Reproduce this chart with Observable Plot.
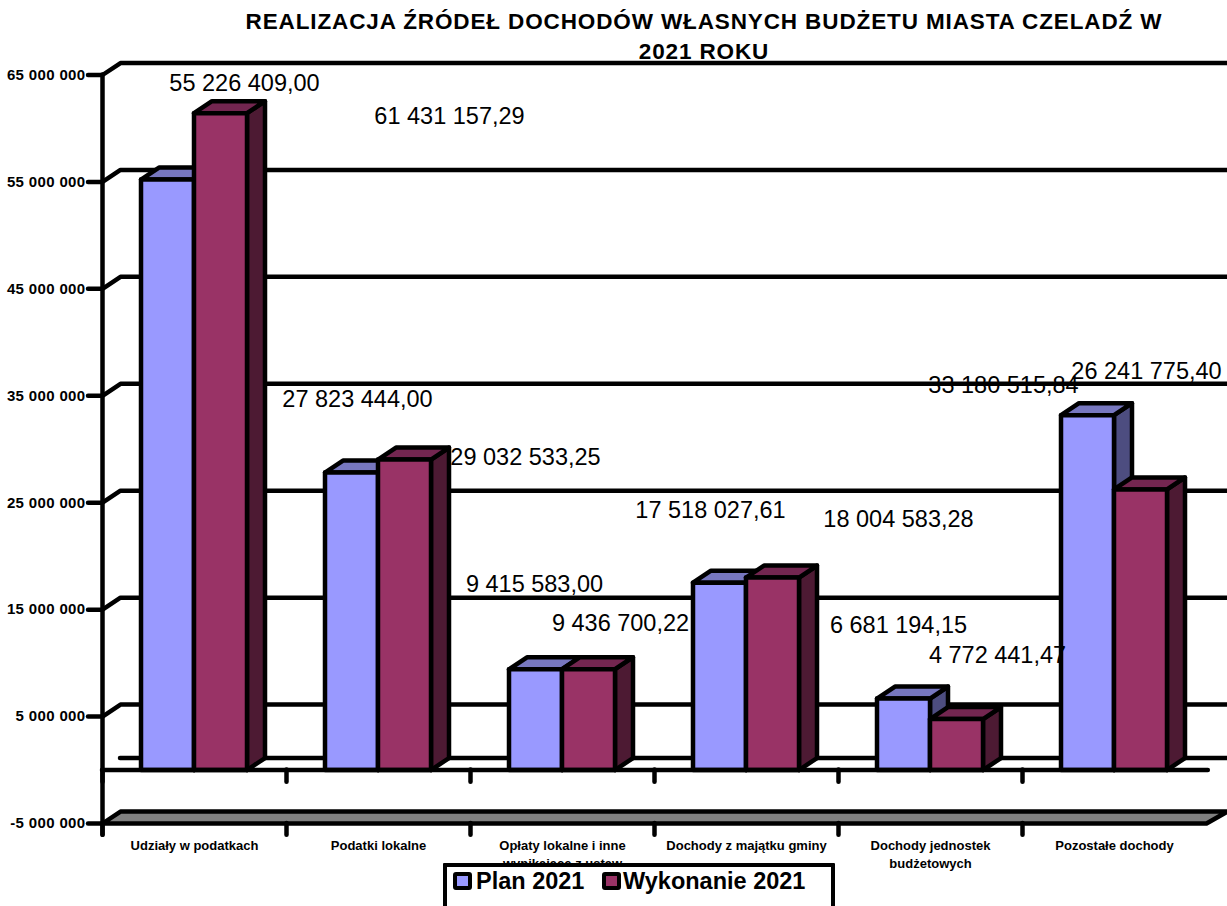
<!DOCTYPE html>
<html lang="pl">
<head>
<meta charset="utf-8">
<script src="https://cdn.jsdelivr.net/npm/d3@7"></script>
<script src="https://cdn.jsdelivr.net/npm/@observablehq/plot@0.6"></script>
<style>
  html, body { margin: 0; padding: 0; background: #fff; width: 1227px; height: 906px; overflow: hidden; }
  body { position: relative; font-family: "Liberation Sans", Arial, sans-serif; color: #000; }
  #title { position: absolute; left: 190px; top: 7px; width: 1028px; text-align: center; font-weight: bold; font-size: 22.5px; letter-spacing: 0.88px; line-height: 30px; z-index: 2; }
  #chart { position: absolute; left: 0; top: 0; }
  #legend { position: absolute; left: 443px; top: 863px; width: 384px; height: 60px; border: 4px solid #000; background: #fff; border-radius: 1px; z-index: 3; font-weight: bold; font-size: 23.5px; }
  #legend .sw { position: absolute; top: 5px; width: 11px; height: 10px; border: 4px solid #000; border-radius: 3px; }
  #legend .tx { position: absolute; top: 1px; line-height: 27px; white-space: nowrap; }
  g[aria-label="y-axis tick label"] text { letter-spacing: 0.35px; }
</style>
</head>
<body>
<div id="title">REALIZACJA ŹRÓDEŁ DOCHODÓW WŁASNYCH BUDŻETU MIASTA CZELADŹ W<br>2021 ROKU</div>
<div id="chart"></div>
<div id="legend">
  <span class="sw" style="left:6px;background:#9999FF"></span><span class="tx" style="left:29px">Plan 2021</span>
  <span class="sw" style="left:155px;background:#993366"></span><span class="tx" style="left:176px">Wykonanie 2021</span>
</div>
<script>
const categories = [
  "Udziały w podatkach",
  "Podatki lokalne",
  "Opłaty lokalne i inne\nwynikające z ustaw",
  "Dochody z majątku gminy",
  "Dochody jednostek\nbudżetowych",
  "Pozostałe dochody"
];
const plan2021 = [55226409.00, 27823444.00, 9415583.00, 17518027.61, 6681194.15, 33180515.84];
const wykonanie2021 = [61431157.29, 29032533.25, 9436700.22, 18004583.28, 4772441.47, 26241775.40];
const yTicks = [-5000000, 5000000, 15000000, 25000000, 35000000, 45000000, 55000000, 65000000];

// layout (style) constants
const depthX = 18 / 184;
const depthY = 1122000;
const barStart = 38.5 / 184;
const barWidth = 53 / 184;
const wallEnd = 6 + 21 / 184;
const planColors = {front: "#9999FF", top: "#7777BF", side: "#4D4D80"};
const wykColors = {front: "#993366", top: "#732650", side: "#4D1A33"};
const planShift = [[77, -96], [6, -73], [-1, -85], [-9, -72], [-5, -73], [-84, -30]];
const wykShift = [[229, 3.4], [121, -2], [32, -45.6], [126, -58], [41, -63.5], [6, -118]];

const pl = d3.formatLocale({decimal: ",", thousands: " ", grouping: [3], currency: ["", ""], minus: "-"});
const fmtTick = pl.format(",.0f");
const fmtValue = pl.format(",.2f");

// polygons for the pseudo-3D bars
const faces = [];
function addFace(id, fill, pts) {
  pts.concat([pts[0]]).forEach(([x, y]) => faces.push({id, fill, x, y}));
}
function addBar(key, x0, v, c) {
  const x1 = x0 + barWidth;
  addFace(key + "side", c.side, [[x1, 0], [x1 + depthX, depthY], [x1 + depthX, v + depthY], [x1, v]]);
  addFace(key + "top", c.top, [[x0, v], [x0 + depthX, v + depthY], [x1 + depthX, v + depthY], [x1, v]]);
  addFace(key + "front", c.front, [[x0, 0], [x0, v], [x1, v], [x1, 0]]);
}
categories.forEach((_, i) => {
  addBar("p" + i, i + barStart, plan2021[i], planColors);
  addBar("w" + i, i + barStart + barWidth, wykonanie2021[i], wykColors);
});

// back-wall grid lines
const gridPts = [];
yTicks.slice(1).forEach(v => {
  gridPts.push({v, x: 0, y: v}, {v, x: depthX, y: v + depthY}, {v, x: wallEnd, y: v + depthY});
});
const floor = [];
[[0, -5000000], [depthX, -5000000 + depthY], [wallEnd, -5000000 + depthY], [6, -5000000], [0, -5000000]]
  .forEach(([x, y]) => floor.push({x, y}));

const tickX = d3.range(0, 6);
const lw = 4.5;

const labelMarks = [];
[[plan2021, planShift, barStart + barWidth / 2], [wykonanie2021, wykShift, barStart + barWidth * 1.5]].forEach(([vals, shift, off]) => {
  vals.forEach((v, i) => {
    labelMarks.push(Plot.text([v], {
      x: () => i + off, y: d => d, text: d => fmtValue(d),
      dx: shift[i][0], dy: shift[i][1],
      fontSize: 23.5, fontWeight: "normal", fill: "#000", textAnchor: "middle", lineAnchor: "middle"
    }));
  });
});

const chart = Plot.plot({
  width: 1227,
  height: 906,
  marginLeft: 102,
  marginRight: 21,
  marginTop: 74.5,
  marginBottom: 83,
  style: {fontFamily: "'Liberation Sans', Arial, sans-serif", background: "transparent", overflow: "visible", color: "#000"},
  x: {type: "linear", domain: [0, 6]},
  y: {type: "linear", domain: [-5000000, 65000000]},
  color: {type: "identity"},
  marks: [
    Plot.line(gridPts, {x: "x", y: "y", z: "v", stroke: "#000", strokeWidth: lw}),
    Plot.ruleY([depthY], {x1: depthX, x2: wallEnd, stroke: "#000", strokeWidth: lw, strokeLinecap: "round"}),
    Plot.line(floor, {x: "x", y: "y", fill: "#808080", stroke: "#000", strokeWidth: lw}),
    Plot.line(faces, {x: "x", y: "y", z: "id", fill: "fill", stroke: "#000", strokeWidth: lw}),
    Plot.ruleY([0], {x1: 0, x2: 6.01, stroke: "#000", strokeWidth: lw, strokeLinecap: "round"}),
    Plot.ruleX([0], {y1: -6100000, y2: 65000000, stroke: "#000", strokeWidth: lw, strokeLinecap: "round"}),
    Plot.ruleX(tickX, {y1: 0, y2: -1150000, stroke: "#000", strokeWidth: lw, strokeLinecap: "round"}),
    Plot.ruleX(tickX, {y1: -5000000, y2: -6100000, stroke: "#000", strokeWidth: lw, strokeLinecap: "round"}),
    Plot.axisY({
      ticks: yTicks, tickFormat: fmtTick, tickSize: 14, tickPadding: 3,
      label: null, stroke: "#000", strokeWidth: lw, strokeLinecap: "round",
      fontSize: 15, fontWeight: "bold", fill: "#000"
    }),
    Plot.axisX({
      ticks: categories.map((_, i) => i + 0.5),
      tickFormat: d => categories[Math.floor(d)],
      tickSize: 0, tickPadding: 13.6, label: null, lineHeight: 1.4,
      fontSize: 13, fontWeight: "bold", fill: "#000", lineAnchor: "top"
    }),
    ...labelMarks
  ]
});
document.getElementById("chart").appendChild(chart);
</script>
</body>
</html>
